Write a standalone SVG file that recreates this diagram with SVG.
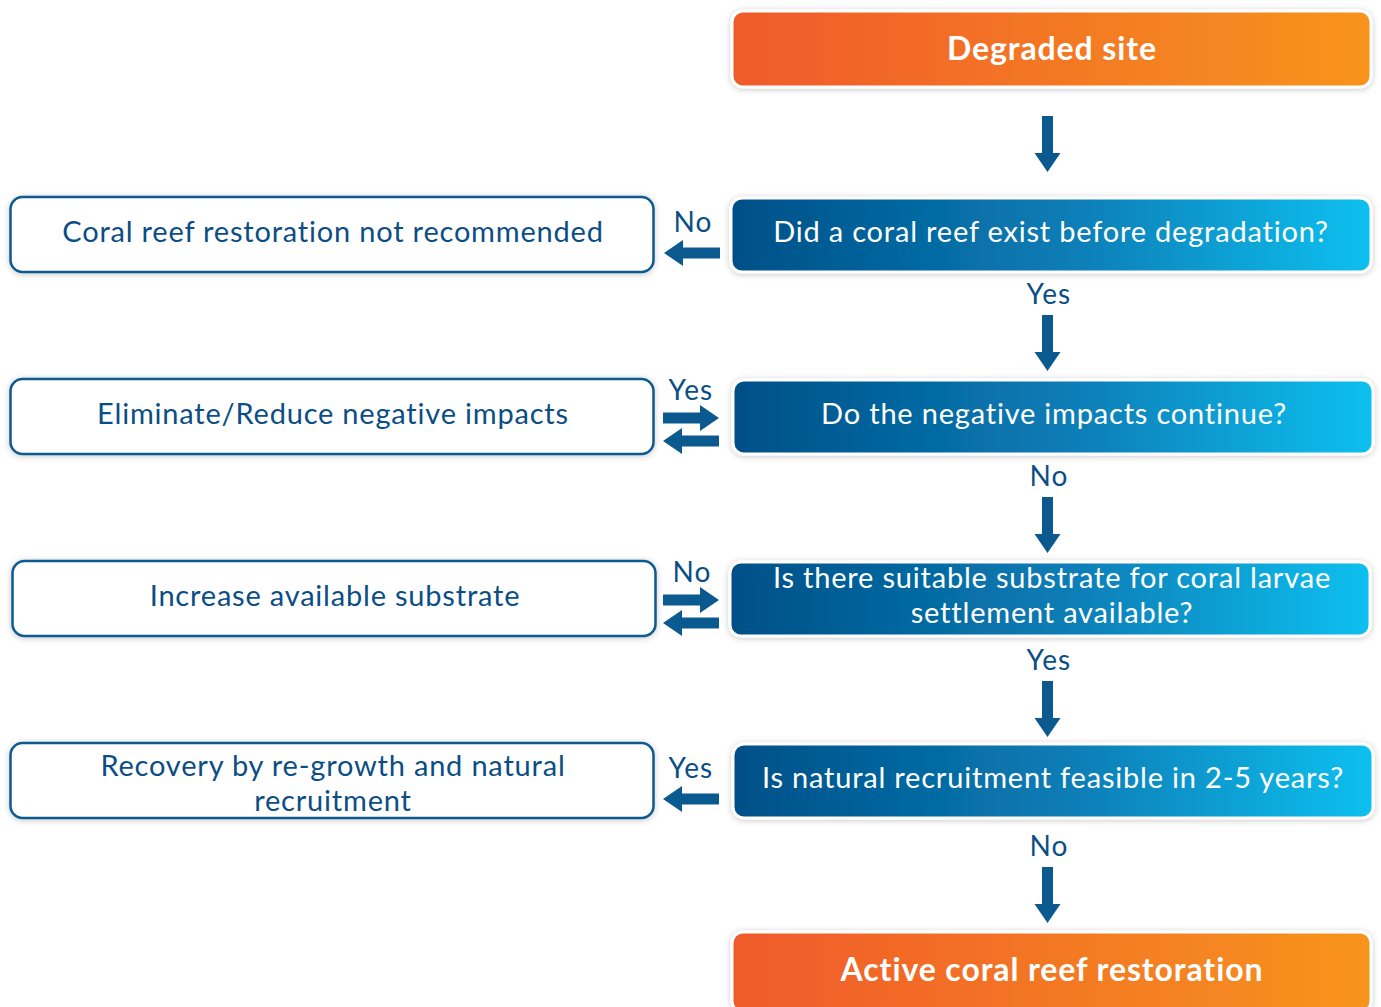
<svg xmlns="http://www.w3.org/2000/svg" width="1381" height="1007" viewBox="0 0 1381 1007">
<defs>
<linearGradient id="gOrange" x1="0" y1="0" x2="1" y2="0">
<stop offset="0" stop-color="#f05a2b"/><stop offset="1" stop-color="#f7941d"/>
</linearGradient>
<linearGradient id="gBlue" x1="0" y1="0" x2="1" y2="0">
<stop offset="0" stop-color="#004f87"/><stop offset="0.55" stop-color="#0a7fb8"/><stop offset="1" stop-color="#0bc0ef"/>
</linearGradient>
<filter id="sh" x="-5%" y="-20%" width="110%" height="140%">
<feDropShadow dx="0" dy="1" stdDeviation="3" flood-color="#000" flood-opacity="0.22"/>
</filter>
<path id="arr" d="M0,-5.5 H37 V-13 L56,0 L37,13 V5.5 H0 Z" fill="#0b5a8f"/>
</defs>
<style>
.t{font-family:Lato,"Open Sans","Liberation Sans",sans-serif;text-anchor:middle;dominant-baseline:central}
.w{fill:#fff;font-size:29px;letter-spacing:0.8px}
.wb{fill:#fff;font-size:32px;font-weight:bold;letter-spacing:0.9px}
.d{fill:#0b4e85;font-size:29px;letter-spacing:0.8px}
.lbl{fill:#0b4e85;font-size:28px;letter-spacing:1.2px}
.cb{stroke:#fff;stroke-width:3;filter:url(#sh)}
.lb{fill:#fff;stroke:#0b5a8f;stroke-width:2.5;filter:url(#sh)}
</style>
<g id="connectors">
<use href="#arr" transform="translate(1047.5,116) rotate(90)"/>
<use href="#arr" transform="translate(1047.5,315) rotate(90)"/>
<use href="#arr" transform="translate(1047.5,497) rotate(90)"/>
<use href="#arr" transform="translate(1047.5,681) rotate(90)"/>
<use href="#arr" transform="translate(1047.5,867) rotate(90)"/>
<use href="#arr" transform="translate(720,253) rotate(180)"/>
<use href="#arr" transform="translate(663,418)"/>
<use href="#arr" transform="translate(719,441) rotate(180)"/>
<use href="#arr" transform="translate(663,600)"/>
<use href="#arr" transform="translate(719,623) rotate(180)"/>
<use href="#arr" transform="translate(719,799) rotate(180)"/>
<text class="t lbl" x="1049" y="293">Yes</text>
<text class="t lbl" x="1049" y="475">No</text>
<text class="t lbl" x="1049" y="659">Yes</text>
<text class="t lbl" x="1049" y="845">No</text>
<text class="t lbl" x="693" y="221">No</text>
<text class="t lbl" x="691" y="389">Yes</text>
<text class="t lbl" x="692" y="571">No</text>
<text class="t lbl" x="691" y="767">Yes</text>
</g>
<g id="degraded">
<rect class="cb" x="732" y="11" width="639" height="76" rx="11" fill="url(#gOrange)"/>
<text class="t wb" x="1052" y="47">Degraded site</text>
</g>
<g id="q1">
<rect class="cb" x="731" y="198" width="640" height="74" rx="11" fill="url(#gBlue)"/>
<text class="t w" x="1051" y="230.5">Did a coral reef exist before degradation?</text>
</g>
<g id="q2">
<rect class="cb" x="733" y="380" width="640" height="74" rx="11" fill="url(#gBlue)"/>
<text class="t w" x="1054" y="412.5">Do the negative impacts continue?</text>
</g>
<g id="q3">
<rect class="cb" x="730" y="562" width="640" height="74" rx="11" fill="url(#gBlue)"/>
<text class="t w" x="1052" y="576.5">Is there suitable substrate for coral larvae</text>
<text class="t w" x="1052" y="611.5">settlement available?</text>
</g>
<g id="q4">
<rect class="cb" x="733" y="744" width="640" height="74" rx="11" fill="url(#gBlue)"/>
<text class="t w" x="1053" y="776.5">Is natural recruitment feasible in 2-5 years?</text>
</g>
<g id="active">
<rect class="cb" x="732" y="932" width="639" height="80" rx="11" fill="url(#gOrange)"/>
<text class="t wb" x="1052" y="968">Active coral reef restoration</text>
</g>
<g id="notrec">
<rect class="lb" x="10.5" y="197" width="643" height="75" rx="12"/>
<text class="t d" x="333" y="230.5">Coral reef restoration not recommended</text>
</g>
<g id="eliminate">
<rect class="lb" x="10.5" y="379" width="643" height="75" rx="12"/>
<text class="t d" x="333" y="412.5">Eliminate/Reduce negative impacts</text>
</g>
<g id="increase">
<rect class="lb" x="12.5" y="561" width="643" height="75" rx="12"/>
<text class="t d" x="335" y="594.5">Increase available substrate</text>
</g>
<g id="recovery">
<rect class="lb" x="10.5" y="743" width="643" height="75" rx="12"/>
<text class="t d" x="333" y="764.5">Recovery by re-growth and natural</text>
<text class="t d" x="333" y="799.5">recruitment</text>
</g>
</svg>
